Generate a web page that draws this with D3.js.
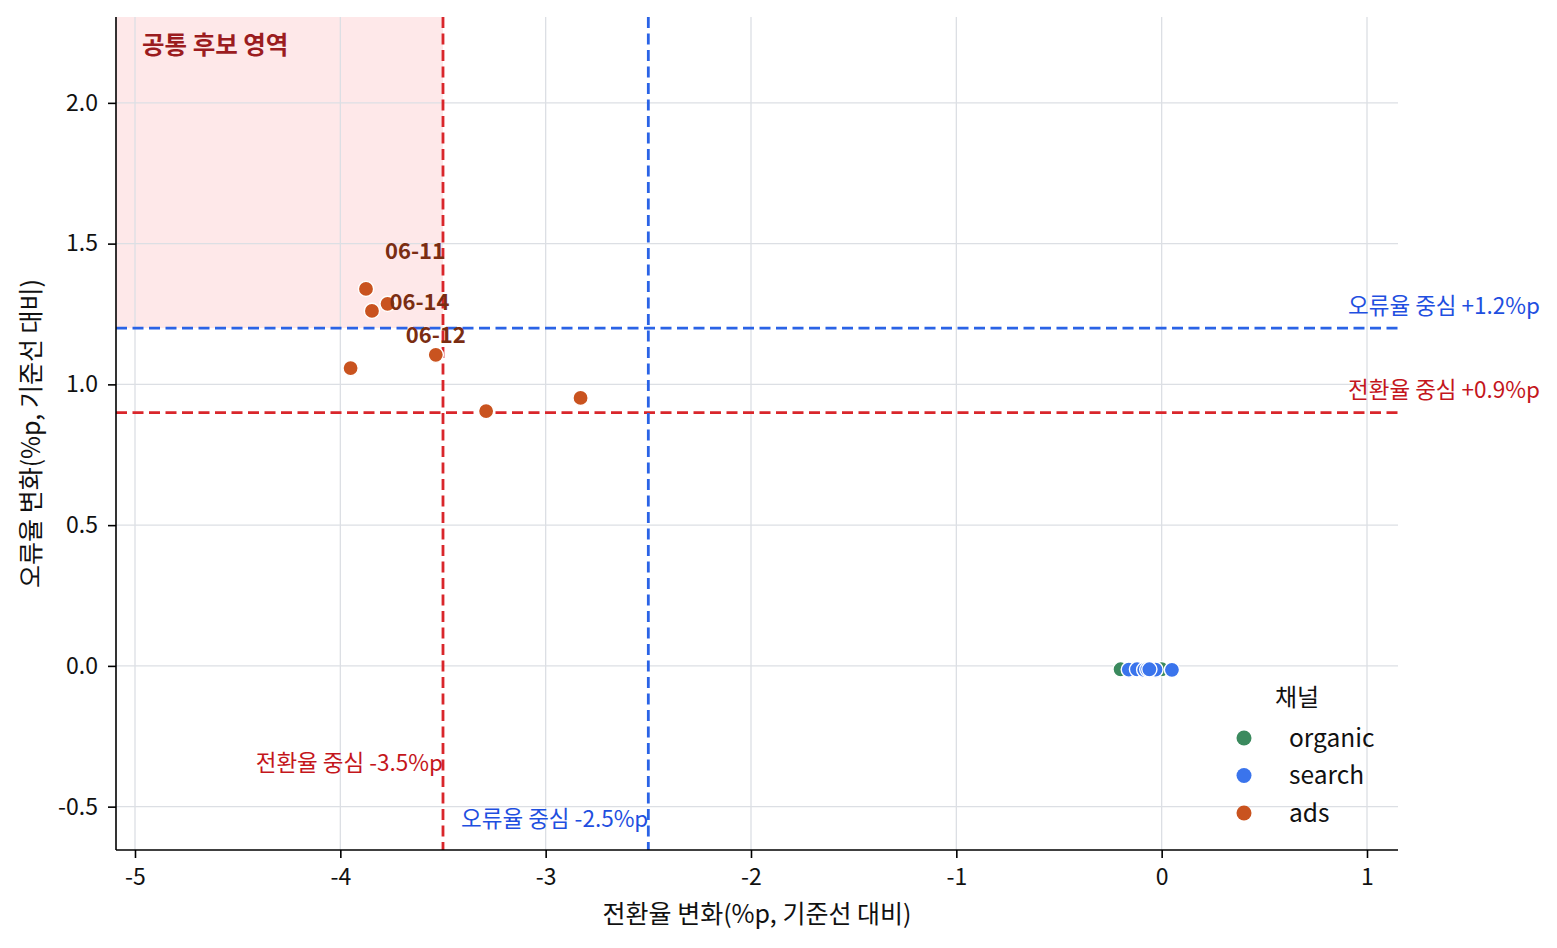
<!DOCTYPE html>
<html>
<head>
<meta charset="utf-8">
<script src="https://cdn.jsdelivr.net/npm/d3@7"></script>
<style>
  html, body { margin: 0; padding: 0; background: #fff; }
  svg { display: block; font-family: "Noto Sans CJK KR", "Noto Sans", sans-serif; }
</style>
</head>
<body>
<svg id="chart" width="1557" height="948"></svg>
<script>
// ---- data ----
const channels = ["organic", "search", "ads"];
const channelColors = ["#3b8a5e", "#3a74ec", "#c9531f"];

const organicX = [-0.20, -0.15, -0.11, -0.06, -0.02, 0.00, -0.13];
const organicY = [-0.012, -0.013, -0.011, -0.012, -0.013, -0.012, -0.011];
const searchX  = [-0.16, -0.12, -0.085, -0.07, -0.03, 0.05, -0.06];
const searchY  = [-0.013, -0.012, -0.014, -0.012, -0.013, -0.014, -0.012];
const adsDates = ["06-08", "06-09", "06-10", "06-11", "06-12", "06-13", "06-14"];
const adsX     = [-3.95, -3.29, -2.83, -3.875, -3.535, -3.846, -3.77];
const adsY     = [1.058, 0.905, 0.952, 1.339, 1.105, 1.261, 1.286];
const labeledDates = ["06-11", "06-14", "06-12"];

const xTicks = [-5, -4, -3, -2, -1, 0, 1];
const yTicks = [-0.5, 0.0, 0.5, 1.0, 1.5, 2.0];
const xDomain = [-5.0925, 1.151];
const yDomain = [-0.654, 2.305];

const convCenter = -3.5;   // 전환율 중심 (x)
const errCenter = -2.5;    // 오류율 중심 (x)
const errCenterY = 1.2;    // 오류율 중심 (y)
const convCenterY = 0.9;   // 전환율 중심 (y)

const xLabel = "전환율 변화(%p, 기준선 대비)";
const yLabel = "오류율 변화(%p, 기준선 대비)";
const regionLabel = "공통 후보 영역";
const legendTitle = "채널";

// ---- layout ----
const svg = d3.select("#chart");
const L = 116, R = 1398, T = 17, B = 850;
const x = d3.scaleLinear().domain(xDomain).range([L, R]);
const y = d3.scaleLinear().domain(yDomain).range([B, T]);

const red = "#d9262b", blue = "#2a63e6";
const redText = "#c4161c", blueText = "#1f4fe0";

// shaded region
svg.append("rect")
  .attr("x", x(xDomain[0])).attr("y", y(yDomain[1]))
  .attr("width", x(convCenter) - x(xDomain[0]))
  .attr("height", y(errCenterY) - y(yDomain[1]))
  .attr("fill", "#fee8e9");

// grid
const grid = svg.append("g").attr("stroke", "#dcdfe4").attr("stroke-width", 1.3);
xTicks.forEach(t => grid.append("line").attr("x1", x(t)).attr("x2", x(t)).attr("y1", T).attr("y2", B));
yTicks.forEach(t => grid.append("line").attr("x1", L).attr("x2", R).attr("y1", y(t)).attr("y2", y(t)));

// reference lines
const dash = "11,5.5";
function vline(v, c) {
  svg.append("line").attr("x1", x(v)).attr("x2", x(v)).attr("y1", T).attr("y2", B)
    .attr("stroke", c).attr("stroke-width", 2.8).attr("stroke-dasharray", dash);
}
function hline(v, c) {
  svg.append("line").attr("x1", L).attr("x2", R).attr("y1", y(v)).attr("y2", y(v))
    .attr("stroke", c).attr("stroke-width", 2.8).attr("stroke-dasharray", dash);
}
hline(errCenterY, blue);
hline(convCenterY, red);
vline(convCenter, red);
vline(errCenter, blue);

// axes
const xAxis = d3.axisBottom(x).tickValues(xTicks).tickFormat(d => String(d).replace("−", "-")).tickSize(8).tickPadding(11);
const yAxis = d3.axisLeft(y).tickValues(yTicks).tickFormat(d => d3.format(".1f")(d).replace("−", "-")).tickSize(8).tickPadding(10);
const gx = svg.append("g").attr("transform", `translate(0,${B})`).call(xAxis);
const gy = svg.append("g").attr("transform", `translate(${L},0)`).call(yAxis);
[gx, gy].forEach(g => {
  g.select(".domain").remove();
  g.selectAll(".tick line").attr("stroke", "#000").attr("stroke-width", 1.6);
  g.selectAll(".tick text").attr("fill", "#111").style("font-size", "23px")
    .style("font-family", '"Noto Sans CJK KR", sans-serif');
});
svg.append("line").attr("x1", L).attr("x2", L).attr("y1", T).attr("y2", B).attr("stroke", "#000").attr("stroke-width", 1.6);
svg.append("line").attr("x1", L).attr("x2", R).attr("y1", B).attr("y2", B).attr("stroke", "#000").attr("stroke-width", 1.6);

// axis labels
svg.append("text").attr("x", (L + R) / 2).attr("y", 923).attr("text-anchor", "middle")
  .style("font-size", "25px").attr("fill", "#111").text(xLabel);
svg.append("text").attr("transform", `translate(40,${(T + B) / 2}) rotate(-90)`).attr("text-anchor", "middle")
  .style("font-size", "25px").attr("fill", "#111").text(yLabel);

// reference annotations
svg.append("text").attr("x", 1540).attr("y", 314).attr("text-anchor", "end")
  .style("font-size", "22.5px").attr("fill", blueText).text(`오류율 중심 +${errCenterY.toFixed(1)}%p`);
svg.append("text").attr("x", 1540).attr("y", 398).attr("text-anchor", "end")
  .style("font-size", "22.5px").attr("fill", redText).text(`전환율 중심 +${convCenterY.toFixed(1)}%p`);
svg.append("text").attr("x", x(convCenter)).attr("y", 771).attr("text-anchor", "end")
  .style("font-size", "22.5px").attr("fill", redText).text(`전환율 중심 ${convCenter.toFixed(1)}%p`);
svg.append("text").attr("x", x(errCenter)).attr("y", 827).attr("text-anchor", "end")
  .style("font-size", "22.5px").attr("fill", blueText).text(`오류율 중심 ${errCenter.toFixed(1)}%p`);

// region label
svg.append("text").attr("x", 142).attr("y", 54).style("font-size", "24.5px").style("font-weight", "bold")
  .attr("fill", "#9b1c1f").text(regionLabel);

// points
const series = [
  { name: channels[0], xs: organicX, ys: organicY, color: channelColors[0] },
  { name: channels[1], xs: searchX, ys: searchY, color: channelColors[1] },
  { name: channels[2], xs: adsX, ys: adsY, color: channelColors[2] }
];
series.forEach(s => {
  const pts = s.xs.map((v, i) => ({ x: v, y: s.ys[i] }));
  svg.append("g").selectAll("circle").data(pts).join("circle")
    .attr("cx", d => x(d.x)).attr("cy", d => y(d.y)).attr("r", 7.6)
    .attr("fill", s.color).attr("stroke", "#fff").attr("stroke-width", 1.4);
});

// date labels (offsets in px from the point)
const labelOffsets = { "06-11": [49, -40], "06-14": [32, -4], "06-12": [0, -22] };
labeledDates.forEach(dt => {
  const i = adsDates.indexOf(dt);
  const off = labelOffsets[dt];
  svg.append("text").attr("x", x(adsX[i]) + off[0]).attr("y", y(adsY[i]) + off[1])
    .attr("text-anchor", "middle").attr("dominant-baseline", "central")
    .style("font-size", "22px").style("font-weight", "bold").attr("fill", "#7a2d12").text(dt);
});

// legend
const lg = svg.append("g");
lg.append("text").attr("x", 1297).attr("y", 706).attr("text-anchor", "middle")
  .style("font-size", "24px").attr("fill", "#111").text(legendTitle);
channels.forEach((c, i) => {
  const cy = 738 + i * 37.5;
  lg.append("circle").attr("cx", 1244).attr("cy", cy).attr("r", 7.5).attr("fill", channelColors[i]);
  lg.append("text").attr("x", 1289).attr("y", cy - 2).attr("dominant-baseline", "central")
    .style("font-size", "24.5px").attr("fill", "#111").text(c);
});
</script>
</body>
</html>
